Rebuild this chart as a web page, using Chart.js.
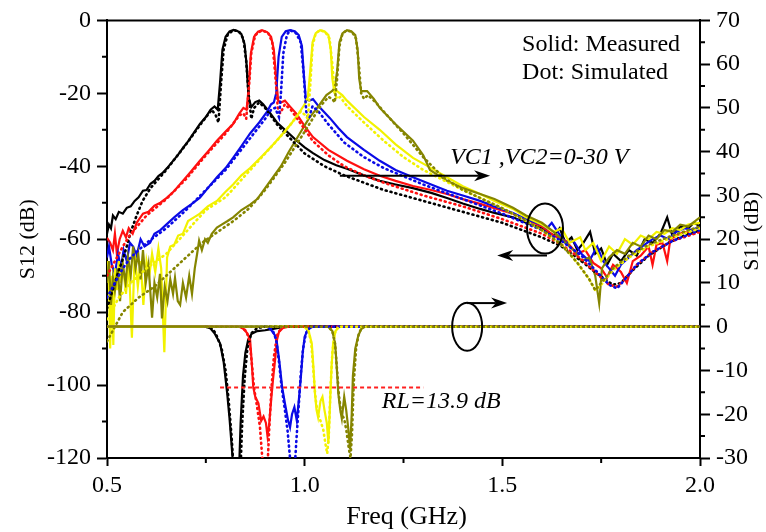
<!DOCTYPE html>
<html><head><meta charset="utf-8">
<script src="https://cdn.jsdelivr.net/npm/chart.js@4.4.1/dist/chart.umd.min.js"></script>
<style>html,body{margin:0;padding:0;background:#fff;}canvas{display:block;}</style>
</head><body>
<canvas id="c" width="766" height="532"></canvas>
<script>
// ---------- DATA (frequency GHz, dB) ----------
const xTicks = [0.5, 1.0, 1.5, 2.0];
const rlLine = [[0.786, -13.9], [1.30, -13.9]];

// S12 measured (left axis)
const blackS12Meas = [[0.5,-58.5],[0.505,-56],[0.51,-57],[0.515,-53.5],[0.522,-54.5],[0.53,-52.5],[0.54,-53],[0.55,-51.4],[0.56,-51],[0.57,-49.5],[0.58,-48.5],[0.591,-46.7],[0.6,-46.5],[0.61,-44.8],[0.62,-44],[0.63,-42.7],[0.64,-41.9],[0.652,-40.5],[0.665,-38.8],[0.68,-36.8],[0.692,-35],[0.705,-33.2],[0.72,-30.8],[0.735,-28.4],[0.75,-26.5],[0.762,-24.5],[0.772,-23.6],[0.78,-24.5],[0.786,-17],[0.792,-8],[0.8,-4.5],[0.81,-3],[0.82,-2.6],[0.83,-2.9],[0.84,-3.8],[0.848,-6.5],[0.853,-12],[0.858,-21],[0.865,-23.8],[0.875,-22.4],[0.885,-22],[0.895,-23],[0.91,-25],[0.93,-28],[0.955,-30.5],[0.98,-33],[1.0,-34.8],[1.021,-36.4],[1.05,-38.3],[1.08,-39.7],[1.107,-40.7],[1.15,-42.5],[1.19,-44],[1.23,-45],[1.274,-46],[1.32,-47.3],[1.36,-48.7],[1.4,-50.2],[1.444,-51.7],[1.48,-52.8],[1.527,-54],[1.56,-55.5],[1.6,-57],[1.63,-59],[1.645,-57],[1.66,-61],[1.675,-59.5],[1.69,-63],[1.705,-61],[1.722,-58],[1.735,-64],[1.75,-62.5],[1.765,-67],[1.78,-64],[1.8,-66],[1.82,-63],[1.84,-64.5],[1.86,-60],[1.88,-61],[1.9,-58.5],[1.917,-54],[1.93,-59],[1.95,-56.5],[1.97,-57],[1.985,-55.5],[2.0,-56.5]];
const redS12Meas = [[0.5,-59.6],[0.508,-61],[0.515,-63],[0.52,-58.5],[0.525,-64],[0.532,-60],[0.54,-57.7],[0.548,-59.5],[0.555,-57],[0.565,-58.5],[0.575,-55.5],[0.591,-53],[0.605,-52.5],[0.62,-50.8],[0.635,-50],[0.652,-48.6],[0.67,-46.8],[0.692,-44],[0.712,-41.5],[0.735,-38.5],[0.755,-36],[0.778,-33],[0.8,-30.5],[0.819,-28.4],[0.835,-25.5],[0.845,-24],[0.853,-24.5],[0.858,-19],[0.864,-9],[0.872,-4.5],[0.882,-3.1],[0.892,-2.7],[0.905,-3.2],[0.915,-4.5],[0.922,-8],[0.928,-16],[0.933,-22],[0.94,-22.5],[0.95,-22],[0.962,-23.5],[0.98,-25.7],[1.0,-29],[1.021,-32],[1.06,-35.5],[1.107,-38.5],[1.15,-40.8],[1.19,-42.6],[1.23,-44],[1.274,-45.4],[1.32,-46.5],[1.36,-47.6],[1.4,-49],[1.444,-50.3],[1.48,-51.5],[1.527,-53],[1.56,-54.5],[1.6,-56.5],[1.63,-59],[1.66,-60.5],[1.69,-64],[1.71,-63],[1.73,-66.5],[1.75,-68],[1.765,-70.5],[1.78,-67],[1.8,-69],[1.815,-72],[1.83,-66],[1.85,-64.5],[1.87,-62],[1.88,-67],[1.89,-61.5],[1.905,-61],[1.917,-66],[1.925,-60],[1.94,-59],[1.96,-58],[1.98,-58.5],[2.0,-57.5]];
const blueS12Meas = [[0.5,-65],[0.505,-62],[0.512,-67],[0.52,-69.5],[0.528,-64],[0.535,-68],[0.542,-63],[0.55,-66],[0.558,-61],[0.566,-62],[0.575,-64.5],[0.585,-60],[0.595,-62],[0.609,-61],[0.62,-58.5],[0.635,-57.5],[0.652,-55.8],[0.67,-54],[0.692,-52],[0.712,-50.5],[0.735,-48.6],[0.755,-46],[0.778,-43],[0.8,-40.5],[0.819,-37.7],[0.84,-34.5],[0.862,-31],[0.885,-28],[0.905,-25],[0.915,-23],[0.922,-22.5],[0.928,-20],[0.934,-10],[0.942,-4.5],[0.952,-3],[0.963,-2.7],[0.975,-3],[0.985,-4],[0.993,-7],[0.998,-15],[1.003,-21.6],[1.012,-22],[1.021,-21.6],[1.035,-23.5],[1.064,-26.8],[1.085,-29.5],[1.107,-32],[1.15,-35.5],[1.19,-38.5],[1.23,-41],[1.274,-43],[1.32,-45],[1.36,-46.7],[1.4,-48],[1.444,-49.5],[1.48,-51],[1.527,-52.8],[1.56,-54.5],[1.6,-56],[1.613,-57],[1.625,-55.5],[1.64,-58],[1.66,-61],[1.68,-60.5],[1.7,-64],[1.72,-66],[1.74,-62],[1.755,-66],[1.77,-68],[1.785,-70],[1.8,-67],[1.82,-65],[1.84,-63],[1.86,-61.5],[1.88,-60],[1.9,-59],[1.92,-60],[1.94,-58],[1.96,-57],[1.98,-57.5],[2.0,-56.5]];
const yellowS12Meas = [[0.5,-66],[0.505,-72],[0.508,-90],[0.512,-70],[0.516,-89],[0.52,-68],[0.525,-74],[0.53,-66],[0.535,-72],[0.54,-67],[0.548,-75],[0.555,-66],[0.563,-87],[0.57,-64],[0.578,-73],[0.585,-66],[0.592,-78],[0.6,-66],[0.607,-70],[0.614,-64],[0.622,-69],[0.63,-62.5],[0.637,-68],[0.645,-91],[0.652,-65],[0.66,-62],[0.67,-61.5],[0.68,-59],[0.692,-58.5],[0.705,-55],[0.72,-54],[0.735,-53],[0.755,-51],[0.778,-49.5],[0.8,-47],[0.819,-45],[0.84,-42.5],[0.862,-40.5],[0.885,-38],[0.905,-35.8],[0.925,-33.5],[0.945,-31],[0.965,-28.5],[0.985,-25.5],[1.0,-23],[1.008,-21],[1.014,-14],[1.02,-6],[1.028,-3.5],[1.039,-2.7],[1.05,-3],[1.06,-4],[1.066,-8],[1.07,-16],[1.075,-19.5],[1.082,-19.4],[1.095,-20.5],[1.107,-22],[1.15,-26.5],[1.19,-30],[1.23,-34],[1.274,-37.7],[1.32,-40.5],[1.36,-43],[1.4,-45.5],[1.444,-47.6],[1.48,-49.5],[1.527,-51.7],[1.56,-54],[1.6,-56],[1.63,-58],[1.65,-57],[1.67,-61],[1.697,-59.5],[1.71,-63],[1.73,-61],[1.75,-66],[1.77,-62],[1.79,-64],[1.81,-60],[1.83,-61.5],[1.85,-59],[1.87,-60],[1.89,-58],[1.91,-58.5],[1.93,-57],[1.95,-57.5],[1.97,-56],[2.0,-55.5]];
const oliveS12Meas = [[0.5,-72],[0.505,-66],[0.51,-78],[0.515,-70.5],[0.52,-74],[0.527,-68],[0.533,-77],[0.54,-67],[0.547,-72],[0.553,-65],[0.56,-70],[0.566,-62],[0.572,-68],[0.579,-64],[0.585,-71],[0.591,-63],[0.598,-72],[0.605,-67],[0.614,-81.5],[0.62,-72],[0.627,-76],[0.634,-69.5],[0.639,-81.7],[0.646,-73],[0.653,-77],[0.66,-71],[0.667,-75],[0.672,-70.6],[0.679,-77],[0.685,-78],[0.692,-72],[0.7,-76],[0.708,-70],[0.715,-75],[0.722,-68],[0.728,-64],[0.733,-60.4],[0.74,-63],[0.748,-60],[0.755,-61],[0.765,-58.5],[0.778,-56.8],[0.79,-56],[0.805,-55],[0.819,-54],[0.84,-52],[0.862,-50.5],[0.88,-49],[0.9,-46],[0.92,-43],[0.94,-40],[0.96,-36],[0.985,-31.5],[1.01,-27],[1.035,-23.5],[1.055,-20.5],[1.069,-19.4],[1.076,-18.5],[1.082,-14],[1.088,-6],[1.096,-3.5],[1.107,-2.7],[1.118,-3],[1.128,-4],[1.134,-8],[1.138,-16],[1.143,-19.4],[1.15,-19.4],[1.158,-19.4],[1.175,-21.5],[1.19,-24],[1.23,-28.5],[1.274,-33],[1.3,-37],[1.317,-41],[1.36,-44],[1.4,-46],[1.444,-47.6],[1.48,-49],[1.527,-51.4],[1.56,-53.5],[1.6,-55.5],[1.63,-58],[1.66,-61],[1.68,-63],[1.7,-66],[1.72,-65],[1.735,-70],[1.745,-77.6],[1.752,-68],[1.77,-65],[1.79,-63],[1.81,-64],[1.83,-61],[1.85,-62],[1.87,-59],[1.89,-60],[1.91,-57.5],[1.93,-58],[1.95,-56],[1.97,-56.5],[2.0,-54]];

// S12 simulated (left axis)
const blackS12Sim = [[0.5,-79],[0.51,-75.5],[0.52,-72],[0.53,-68.5],[0.54,-65.5],[0.55,-62],[0.56,-58],[0.575,-53.5],[0.59,-49.5],[0.61,-46],[0.65,-41],[0.7,-34],[0.74,-28],[0.765,-24.5],[0.775,-26],[0.782,-28],[0.788,-18],[0.795,-8],[0.805,-4],[0.82,-2.6],[0.835,-3.2],[0.845,-5],[0.852,-11],[0.858,-20],[0.865,-27],[0.872,-24],[0.885,-22.5],[0.9,-24],[0.93,-28.5],[0.96,-32],[1.0,-36.5],[1.05,-40],[1.1,-42.5],[1.15,-44.5],[1.2,-46.5],[1.3,-49.5],[1.4,-52.5],[1.5,-55.5],[1.6,-59.5],[1.65,-62],[1.7,-66],[1.74,-69.5],[1.78,-72.5],[1.8,-72],[1.83,-68.5],[1.87,-64.5],[1.92,-61],[1.96,-59],[2.0,-57.5]];
const redS12Sim = [[0.5,-70],[0.52,-66],[0.54,-62],[0.56,-58.5],[0.6,-53.5],[0.65,-49],[0.7,-43.5],[0.75,-37],[0.8,-31],[0.835,-26],[0.845,-25.5],[0.852,-27],[0.858,-20],[0.865,-9],[0.875,-4],[0.892,-2.7],[0.908,-3.5],[0.918,-6],[0.925,-14],[0.932,-24],[0.938,-25.5],[0.95,-23],[0.965,-24.5],[0.985,-27.5],[1.02,-33],[1.06,-37],[1.1,-40],[1.15,-42.5],[1.2,-44.5],[1.3,-48],[1.4,-51],[1.5,-54.5],[1.6,-58.5],[1.65,-61.5],[1.7,-65.5],[1.74,-69.5],[1.77,-72.5],[1.79,-73],[1.81,-71],[1.84,-67],[1.88,-63.5],[1.93,-60.5],[2.0,-58]];
const blueS12Sim = [[0.5,-76],[0.52,-72],[0.54,-68],[0.56,-65],[0.6,-61],[0.65,-57],[0.7,-52],[0.75,-46.5],[0.8,-41],[0.85,-34],[0.9,-27],[0.915,-24.5],[0.925,-24],[0.935,-26.5],[0.94,-20],[0.946,-9],[0.955,-4],[0.963,-2.7],[0.978,-3.5],[0.99,-6],[0.997,-14],[1.004,-25],[1.01,-27],[1.02,-23.5],[1.035,-25],[1.06,-28.5],[1.1,-33.5],[1.15,-37.5],[1.2,-40.5],[1.3,-45],[1.4,-49],[1.5,-53],[1.6,-57.5],[1.65,-60.5],[1.7,-64.5],[1.74,-69],[1.77,-72.5],[1.79,-73.5],[1.81,-71],[1.84,-67],[1.88,-63.5],[1.93,-60.5],[2.0,-57.5]];
const yellowS12Sim = [[0.5,-82],[0.53,-76],[0.56,-72],[0.6,-68],[0.65,-64],[0.7,-58],[0.75,-52],[0.8,-48.5],[0.85,-42.5],[0.9,-36.5],[0.95,-30.5],[0.99,-25],[1.002,-26],[1.008,-27],[1.014,-18],[1.02,-7],[1.028,-3.5],[1.039,-2.7],[1.052,-3.2],[1.063,-5],[1.07,-12],[1.076,-20],[1.082,-21.5],[1.09,-21],[1.107,-23.5],[1.15,-28],[1.2,-33],[1.25,-37.5],[1.3,-41],[1.4,-46.5],[1.5,-51.5],[1.56,-55],[1.6,-57.5],[1.65,-61.5],[1.69,-66.5],[1.72,-71],[1.735,-74],[1.75,-72.5],[1.78,-68.5],[1.82,-65],[1.87,-62],[1.93,-59.5],[2.0,-57]];
const oliveS12Sim = [[0.5,-88],[0.54,-80],[0.58,-76],[0.62,-73],[0.66,-69],[0.7,-65],[0.74,-61],[0.78,-58],[0.82,-55],[0.86,-51.5],[0.9,-46.5],[0.95,-39],[1.0,-30.5],[1.04,-23.5],[1.06,-21],[1.07,-21.5],[1.076,-22.5],[1.082,-16],[1.088,-7],[1.096,-3.5],[1.107,-2.7],[1.12,-3.2],[1.13,-5],[1.137,-12],[1.143,-20],[1.15,-21.5],[1.16,-20.5],[1.18,-22.5],[1.2,-25],[1.25,-31],[1.3,-37.5],[1.35,-43],[1.4,-46.5],[1.5,-51.5],[1.56,-55],[1.6,-57.5],[1.65,-61.5],[1.69,-66.5],[1.72,-71],[1.735,-74],[1.75,-72],[1.78,-68],[1.82,-64.5],[1.87,-61.5],[1.93,-59],[2.0,-56.5]];

// S11 measured (right axis)
const blackS11Meas = [[0.5,0],[0.75,0],[0.762,-0.4],[0.772,-1.5],[0.78,-2.8],[0.786,-3.8],[0.795,-8],[0.804,-15.2],[0.81,-21],[0.816,-28],[0.82,-33],[0.834,-33],[0.838,-22],[0.844,-11.3],[0.85,-6],[0.857,-3],[0.866,-1.6],[0.88,-1],[0.9,-0.8],[0.92,-0.5],[0.95,0],[2.0,0]];
const redS11Meas = [[0.5,0],[0.835,0],[0.845,-0.5],[0.855,-1.5],[0.862,-3],[0.866,-8],[0.87,-13.8],[0.875,-16],[0.883,-17.5],[0.89,-21.5],[0.896,-20.5],[0.902,-22],[0.906,-25],[0.91,-22.5],[0.915,-17],[0.92,-12],[0.925,-7.7],[0.93,-3],[0.935,-1.2],[0.945,-0.3],[0.96,0],[2.0,0]];
const blueS11Meas = [[0.5,0],[0.905,0],[0.915,-0.7],[0.925,-2],[0.93,-3.8],[0.936,-8],[0.943,-13.8],[0.95,-17.5],[0.958,-21.4],[0.963,-23],[0.968,-20],[0.974,-18.4],[0.98,-21.4],[0.985,-17],[0.99,-12],[0.995,-6],[1.0,-2.3],[1.008,-0.6],[1.02,0],[2.0,0]];
const yellowS11Meas = [[0.5,0],[1.0,0],[1.01,-1],[1.018,-3.8],[1.022,-9],[1.026,-15.2],[1.03,-19],[1.034,-20.7],[1.04,-17],[1.045,-16],[1.05,-19],[1.056,-22],[1.06,-26.6],[1.064,-18],[1.068,-9],[1.072,-3.8],[1.078,-1],[1.088,0],[2.0,0]];
const oliveS11Meas = [[0.5,0],[1.06,0],[1.07,-1],[1.077,-3.8],[1.081,-9],[1.085,-15.2],[1.09,-19],[1.094,-21],[1.1,-16],[1.105,-19],[1.11,-23],[1.115,-28],[1.119,-20],[1.122,-11.3],[1.128,-5],[1.135,-2.3],[1.142,-0.6],[1.152,0],[2.0,0]];

// S11 simulated (right axis)
const blackS11Sim = [[0.75,0],[0.765,-0.3],[0.775,-1.5],[0.79,-5],[0.8,-10],[0.808,-17],[0.815,-25],[0.82,-32],[0.838,-32],[0.842,-22],[0.848,-12],[0.855,-5],[0.865,-1.5],[0.88,-0.3],[0.9,0],[2.0,0]];
const redS11Sim = [[0.75,0],[0.84,0],[0.852,-1],[0.86,-3],[0.866,-8],[0.872,-14],[0.88,-18.5],[0.887,-23],[0.892,-29],[0.895,-32],[0.906,-32],[0.91,-24],[0.916,-14],[0.922,-7],[0.93,-2],[0.94,-0.3],[0.95,0],[2.0,0]];
const blueS11Sim = [[0.75,0],[0.91,0],[0.92,-1],[0.928,-3],[0.935,-8],[0.942,-14],[0.95,-19],[0.957,-24],[0.962,-29],[0.965,-32],[0.975,-32],[0.979,-26],[0.985,-18],[0.99,-11],[0.996,-5],[1.003,-1.5],[1.015,0],[2.0,0]];
const yellowS11Sim = [[0.75,0],[1.0,0],[1.01,-1],[1.017,-4],[1.022,-10],[1.027,-16],[1.033,-20],[1.04,-21.5],[1.047,-23.5],[1.053,-27],[1.057,-29],[1.061,-25],[1.065,-15],[1.07,-6],[1.076,-1.5],[1.085,0],[2.0,0]];
const oliveS11Sim = [[0.75,0],[1.06,0],[1.07,-1],[1.077,-4],[1.082,-10],[1.087,-16],[1.093,-20],[1.1,-21],[1.106,-24],[1.112,-28],[1.116,-30],[1.12,-24],[1.124,-13],[1.13,-5],[1.137,-1.5],[1.147,0],[2.0,0]];

// ---------- CHART ----------
const FONT = "'Liberation Serif','Times New Roman','DejaVu Serif',serif";
const COL = {black:'#000000', red:'#ff1010', blue:'#0a0ae6', yellow:'#f2f200', olive:'#858500'};
const pts = arr => arr.map(p => ({x:p[0], y:p[1]}));
function solid(arr, color, axis){ return {data:pts(arr), yAxisID:axis, borderColor:color, borderWidth:2.2, pointRadius:0, tension:0, fill:false}; }
function dotted(arr, color, axis){ return {data:pts(arr), yAxisID:axis, borderColor:color, borderWidth:2.6, borderDash:[1,4], borderCapStyle:'round', pointRadius:0, tension:0, fill:false}; }

const datasets = [
  {data:pts(rlLine), yAxisID:'y2', borderColor:'#ff2020', borderWidth:2, borderDash:[4,3], pointRadius:0, fill:false},
  dotted(oliveS11Sim, COL.olive, 'y2'), dotted(yellowS11Sim, COL.yellow, 'y2'), dotted(blueS11Sim, COL.blue, 'y2'), dotted(redS11Sim, COL.red, 'y2'), dotted(blackS11Sim, COL.black, 'y2'),
  solid(oliveS11Meas, COL.olive, 'y2'), solid(yellowS11Meas, COL.yellow, 'y2'), solid(blueS11Meas, COL.blue, 'y2'), solid(redS11Meas, COL.red, 'y2'), solid(blackS11Meas, COL.black, 'y2'),
  dotted(oliveS12Sim, COL.olive, 'y'), dotted(yellowS12Sim, COL.yellow, 'y'), dotted(blueS12Sim, COL.blue, 'y'), dotted(redS12Sim, COL.red, 'y'), dotted(blackS12Sim, COL.black, 'y'),
  solid(oliveS12Meas, COL.olive, 'y'), solid(yellowS12Meas, COL.yellow, 'y'), solid(blueS12Meas, COL.blue, 'y'), solid(redS12Meas, COL.red, 'y'), solid(blackS12Meas, COL.black, 'y')
];

function arrow(ctx, x1, y1, x2, y2){
  const ang = Math.atan2(y2-y1, x2-x1), L = 16, W = 5.5;
  ctx.beginPath(); ctx.moveTo(x1,y1); ctx.lineTo(x2 - Math.cos(ang)*L*0.7, y2 - Math.sin(ang)*L*0.7); ctx.stroke();
  ctx.beginPath();
  ctx.moveTo(x2,y2);
  ctx.lineTo(x2 - Math.cos(ang)*L - Math.sin(ang)*W, y2 - Math.sin(ang)*L + Math.cos(ang)*W);
  ctx.lineTo(x2 - Math.cos(ang)*L*0.7, y2 - Math.sin(ang)*L*0.7);
  ctx.lineTo(x2 - Math.cos(ang)*L + Math.sin(ang)*W, y2 - Math.sin(ang)*L - Math.cos(ang)*W);
  ctx.closePath(); ctx.fill();
}

const deco = {
  id:'deco',
  afterDraw(chart){
    const {ctx, chartArea:a, scales} = chart;
    const X = scales.x, Y = scales.y, Y2 = scales.y2;
    ctx.save();
    ctx.strokeStyle = '#000'; ctx.fillStyle = '#000'; ctx.lineWidth = 2;
    // top frame
    ctx.beginPath(); ctx.moveTo(a.left-1, a.top); ctx.lineTo(a.right+1, a.top); ctx.stroke();
    // minor ticks
    ctx.beginPath();
    [0.75,1.25,1.75].forEach(v => { const p = X.getPixelForValue(v); ctx.moveTo(p, a.bottom); ctx.lineTo(p, a.bottom+5); });
    for (let v=-110; v<0; v+=20){ const p = Y.getPixelForValue(v); ctx.moveTo(a.left-5, p); ctx.lineTo(a.left, p); }
    for (let v=-25; v<70; v+=10){ const p = Y2.getPixelForValue(v); ctx.moveTo(a.right, p); ctx.lineTo(a.right+5, p); }
    ctx.stroke();
    // axis titles
    ctx.textAlign = 'center'; ctx.textBaseline = 'middle';
    ctx.font = "26px " + FONT;
    ctx.fillText('Freq (GHz)', (a.left+a.right)/2 + 3, 517);
    ctx.font = "22px " + FONT;
    ctx.save(); ctx.translate(28, (a.top+a.bottom)/2); ctx.rotate(-Math.PI/2); ctx.fillText('S12 (dB)', 0, 0); ctx.restore();
    ctx.save(); ctx.translate(752, (a.top+a.bottom)/2 - 8); ctx.rotate(-Math.PI/2); ctx.fillText('S11 (dB)', 0, 0); ctx.restore();
    // legend-like text
    ctx.textAlign = 'left'; ctx.textBaseline = 'alphabetic';
    ctx.font = "24px " + FONT;
    ctx.fillText('Solid: Measured', X.getPixelForValue(1.55), Y.getPixelForValue(-8.5));
    ctx.fillText('Dot: Simulated', X.getPixelForValue(1.55), Y.getPixelForValue(-16.1));
    ctx.font = "italic 24px " + FONT;
    ctx.fillText('VC1 ,VC2=0-30 V', X.getPixelForValue(1.368), Y.getPixelForValue(-39.4));
    ctx.fillText('RL=13.9 dB', X.getPixelForValue(1.195), Y2.getPixelForValue(-18.6));
    // arrows
    ctx.lineWidth = 2;
    arrow(ctx, X.getPixelForValue(1.089), Y.getPixelForValue(-42.6), X.getPixelForValue(1.469), Y.getPixelForValue(-42.6));
    arrow(ctx, X.getPixelForValue(1.613), Y.getPixelForValue(-64.5), X.getPixelForValue(1.487), Y.getPixelForValue(-64.5));
    arrow(ctx, X.getPixelForValue(1.411), Y2.getPixelForValue(5.4), X.getPixelForValue(1.512), Y2.getPixelForValue(5.4));
    // ellipses
    ctx.beginPath(); ctx.ellipse(X.getPixelForValue(1.608), Y.getPixelForValue(-57.1), 18, 25, 0, 0, Math.PI*2); ctx.stroke();
    ctx.beginPath(); ctx.ellipse(X.getPixelForValue(1.411), Y2.getPixelForValue(0), 15, 24, 0, 0, Math.PI*2); ctx.stroke();
    ctx.restore();
  }
};

const tickFont = {family: FONT, size: 24};
new Chart(document.getElementById('c'), {
  type:'line',
  data:{datasets},
  options:{
    responsive:false, animation:false, devicePixelRatio:1,
    layout:{padding:{top:19, left:0, right:0, bottom:0}},
    plugins:{legend:{display:false}, tooltip:{enabled:false}},
    scales:{
      x:{type:'linear', position:'bottom', min:0.5, max:2.0,
         afterBuildTicks: s => { s.ticks = xTicks.map(v => ({value:v})); },
         ticks:{callback:v => Number(v).toFixed(1), font:tickFont, color:'#000', padding:5, maxRotation:0, autoSkip:false},
         grid:{drawOnChartArea:false, tickLength:8, tickWidth:2, tickColor:'#000'},
         border:{color:'#000', width:2},
         afterFit: s => { s.height = 74; }},
      y:{type:'linear', position:'left', min:-120, max:0,
         ticks:{stepSize:20, font:tickFont, color:'#000', padding:6},
         grid:{drawOnChartArea:false, tickLength:10, tickWidth:2, tickColor:'#000'},
         border:{color:'#000', width:2},
         afterFit: s => { s.width = 107; }},
      y2:{type:'linear', position:'right', min:-30, max:70,
         ticks:{stepSize:10, font:tickFont, color:'#000', padding:6},
         grid:{drawOnChartArea:false, tickLength:10, tickWidth:2, tickColor:'#000'},
         border:{color:'#000', width:2},
         afterFit: s => { s.width = 66; }}
    }
  },
  plugins:[deco]
});
</script>
</body></html>
